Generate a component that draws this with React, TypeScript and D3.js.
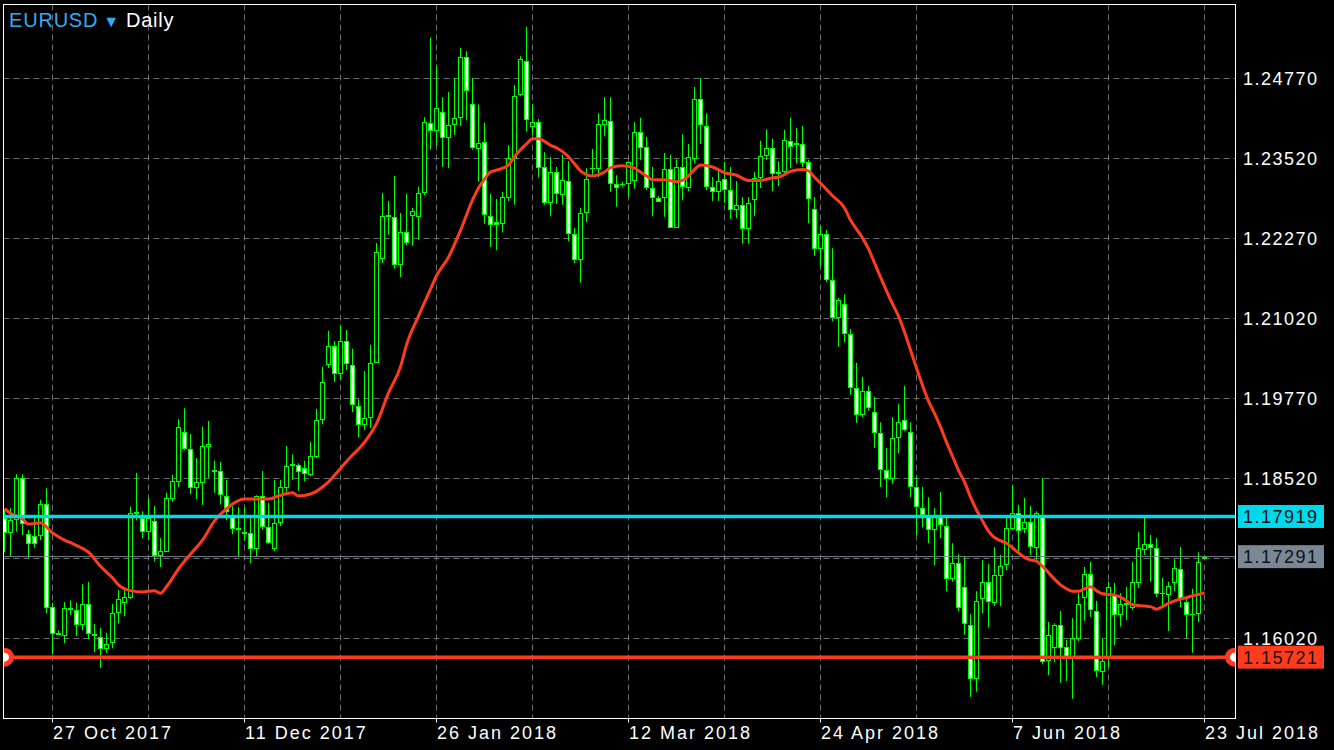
import React from "react";
import * as d3 from "d3";

const symbol = "EURUSD";
const timeframe = "Daily";

const opens = [
  1.1790, 1.1768, 1.1788, 1.1852, 1.1764, 1.1761, 1.1763, 1.1811, 1.1650, 1.1610,
  1.1607, 1.1647, 1.1646, 1.1624, 1.1655, 1.1608, 1.1604, 1.1586, 1.1596, 1.1643,
  1.1658, 1.1666, 1.1797, 1.1790, 1.1769, 1.1785, 1.1732, 1.1738, 1.1821, 1.1847,
  1.1924, 1.1897, 1.1838, 1.1846, 1.1902, 1.1863, 1.1863, 1.1824, 1.1791, 1.1774,
  1.1766, 1.1766, 1.1743, 1.1824, 1.1775, 1.1743, 1.1783, 1.1838, 1.1872, 1.1872,
  1.1868, 1.1858, 1.1886, 1.1944, 1.2030, 1.2058, 1.2016, 1.2066, 1.2029, 1.1964,
  1.1936, 1.1947, 1.2033, 1.2196, 1.2261, 1.2260, 1.2186, 1.2236, 1.2263, 1.2261,
  1.2299, 1.2407, 1.2396, 1.2424, 1.2385, 1.2405, 1.2416, 1.2510, 1.2436, 1.2368,
  1.2377, 1.2261, 1.2252, 1.2250, 1.2291, 1.2352, 1.2452, 1.2504, 1.2402, 1.2408,
  1.2338, 1.2283, 1.2330, 1.2296, 1.2316, 1.2233, 1.2194, 1.2268, 1.2336, 1.2336,
  1.2405, 1.2410, 1.2311, 1.2311, 1.2313, 1.2318, 1.2393, 1.2369, 1.2305, 1.2290,
  1.2291, 1.2335, 1.2244, 1.2338, 1.2307, 1.2352, 1.2444, 1.2402, 1.2307, 1.2300,
  1.2319, 1.2302, 1.2272, 1.2279, 1.2243, 1.2288, 1.2322, 1.2357, 1.2368, 1.2329,
  1.2332, 1.2379, 1.2374, 1.2374, 1.2346, 1.2272, 1.2211, 1.2233, 1.2161, 1.2104,
  1.2124, 1.2077, 1.1993, 1.1952, 1.1988, 1.1955, 1.1922, 1.1865, 1.1852, 1.1916,
  1.1943, 1.1924, 1.1838, 1.1805, 1.1794, 1.1772, 1.1791, 1.1777, 1.1696, 1.1719,
  1.1682, 1.1622, 1.1539, 1.1665, 1.1690, 1.1658, 1.1700, 1.1718, 1.1774, 1.1797,
  1.1774, 1.1783, 1.1744, 1.1794, 1.1568, 1.1588, 1.1622, 1.1588, 1.1571, 1.1602,
  1.1666, 1.1702, 1.1644, 1.1550, 1.1571, 1.1669, 1.1639, 1.1655, 1.1650, 1.1690,
  1.1741, 1.1749, 1.1743, 1.1672, 1.1671, 1.1690, 1.1710, 1.1658, 1.1639, 1.1641,
  1.1727,
];

const highs = [
  1.1802, 1.1805, 1.1858, 1.1858, 1.1771, 1.1790, 1.1818, 1.1836, 1.1657, 1.1614,
  1.1658, 1.1661, 1.1657, 1.1686, 1.1690, 1.1624, 1.1618, 1.1610, 1.1655, 1.1677,
  1.1679, 1.1807, 1.1860, 1.1800, 1.1822, 1.1808, 1.1758, 1.1829, 1.1857, 1.1944,
  1.1961, 1.1921, 1.1883, 1.1932, 1.1941, 1.1879, 1.1877, 1.1849, 1.1808, 1.1807,
  1.1807, 1.1790, 1.1825, 1.1863, 1.1813, 1.1849, 1.1849, 1.1902, 1.1889, 1.1875,
  1.1879, 1.1908, 1.1960, 1.2026, 1.2082, 1.2066, 1.2090, 1.2083, 1.2054, 1.1975,
  1.2019, 1.2060, 1.2219, 1.2297, 1.2285, 1.2324, 1.2266, 1.2296, 1.2274, 1.2307,
  1.2416, 1.2540, 1.2496, 1.2447, 1.2455, 1.2477, 1.2524, 1.2519, 1.2477, 1.2436,
  1.2407, 1.2296, 1.2288, 1.2299, 1.2372, 1.2466, 1.2511, 1.2557, 1.2436, 1.2413,
  1.2361, 1.2354, 1.2338, 1.2357, 1.2347, 1.2243, 1.2274, 1.2336, 1.2366, 1.2422,
  1.2447, 1.2447, 1.2325, 1.2315, 1.2347, 1.2408, 1.2415, 1.2385, 1.2338, 1.2293,
  1.2360, 1.2357, 1.2350, 1.2389, 1.2374, 1.2463, 1.2477, 1.2422, 1.2322, 1.2332,
  1.2346, 1.2338, 1.2316, 1.2291, 1.2291, 1.2330, 1.2379, 1.2397, 1.2382, 1.2347,
  1.2396, 1.2415, 1.2399, 1.2402, 1.2349, 1.2291, 1.2246, 1.2240, 1.2211, 1.2133,
  1.2139, 1.2085, 1.2032, 1.2010, 1.1996, 1.1979, 1.1939, 1.1899, 1.1947, 1.1968,
  1.1996, 1.1939, 1.1854, 1.1838, 1.1822, 1.1805, 1.1830, 1.1791, 1.1750, 1.1733,
  1.1729, 1.1639, 1.1675, 1.1724, 1.1718, 1.1744, 1.1732, 1.1794, 1.1841, 1.1810,
  1.1821, 1.1808, 1.1800, 1.1852, 1.1627, 1.1625, 1.1644, 1.1599, 1.1633, 1.1672,
  1.1713, 1.1721, 1.1660, 1.1602, 1.1690, 1.1688, 1.1672, 1.1682, 1.1721, 1.1768,
  1.1790, 1.1763, 1.1758, 1.1696, 1.1690, 1.1725, 1.1744, 1.1666, 1.1679, 1.1736,
  1.17295,
];

const lows = [
  1.1736, 1.1730, 1.1768, 1.1763, 1.1727, 1.1743, 1.1755, 1.1641, 1.1577, 1.1607,
  1.1594, 1.1638, 1.1605, 1.1614, 1.1600, 1.1580, 1.1555, 1.1579, 1.1586, 1.1625,
  1.1636, 1.1663, 1.1786, 1.1758, 1.1755, 1.1722, 1.1713, 1.1736, 1.1815, 1.1838,
  1.1896, 1.1827, 1.1819, 1.1810, 1.1852, 1.1829, 1.1811, 1.1786, 1.1764, 1.1730,
  1.1754, 1.1719, 1.1729, 1.1771, 1.1749, 1.1738, 1.1777, 1.1829, 1.1849, 1.1832,
  1.1847, 1.1855, 1.1883, 1.1936, 1.2024, 1.2002, 1.2005, 1.2021, 1.1955, 1.1916,
  1.1927, 1.1930, 1.2032, 1.2188, 1.2232, 1.2179, 1.2166, 1.2216, 1.2215, 1.2224,
  1.2294, 1.2365, 1.2371, 1.2338, 1.2336, 1.2388, 1.2402, 1.2411, 1.2365, 1.2315,
  1.2249, 1.2213, 1.2208, 1.2236, 1.2285, 1.2279, 1.2449, 1.2394, 1.2388, 1.2322,
  1.2279, 1.2261, 1.2280, 1.2279, 1.2222, 1.2188, 1.2157, 1.2252, 1.2325, 1.2322,
  1.2386, 1.2299, 1.2276, 1.2307, 1.2291, 1.2304, 1.2349, 1.2302, 1.2261, 1.2283,
  1.2260, 1.2243, 1.2243, 1.2286, 1.2300, 1.2344, 1.2374, 1.2302, 1.2285, 1.2285,
  1.2282, 1.2257, 1.2258, 1.2219, 1.2218, 1.2261, 1.2305, 1.2349, 1.2300, 1.2308,
  1.2325, 1.2336, 1.2343, 1.2338, 1.2250, 1.2199, 1.2183, 1.2158, 1.2097, 1.2057,
  1.2064, 1.1982, 1.1938, 1.1947, 1.1957, 1.1899, 1.1838, 1.1822, 1.1843, 1.1891,
  1.1925, 1.1822, 1.1763, 1.1775, 1.1750, 1.1716, 1.1758, 1.1675, 1.1690, 1.1644,
  1.1607, 1.1510, 1.1518, 1.1641, 1.1618, 1.1652, 1.1652, 1.1708, 1.1772, 1.1735,
  1.1766, 1.1732, 1.1724, 1.1561, 1.1544, 1.1564, 1.1532, 1.1535, 1.1507, 1.1597,
  1.1629, 1.1635, 1.1541, 1.1529, 1.1557, 1.1591, 1.1620, 1.1630, 1.1646, 1.1680,
  1.1732, 1.1690, 1.1666, 1.1650, 1.1613, 1.1675, 1.1650, 1.1602, 1.1579, 1.1627,
  1.1725,
];

const closes = [
  1.1768, 1.1786, 1.1852, 1.1782, 1.1750, 1.1750, 1.1811, 1.1650, 1.1610, 1.1608,
  1.1649, 1.1649, 1.1624, 1.1655, 1.1610, 1.1607, 1.1586, 1.1593, 1.1641, 1.1663,
  1.1666, 1.1797, 1.1799, 1.1769, 1.1790, 1.1732, 1.1738, 1.1821, 1.1847, 1.1932,
  1.1899, 1.1838, 1.1846, 1.1902, 1.1905, 1.1865, 1.1827, 1.1800, 1.1774, 1.1772,
  1.1768, 1.1743, 1.1824, 1.1777, 1.1752, 1.1782, 1.1838, 1.1871, 1.1874, 1.1863,
  1.1860, 1.1886, 1.1943, 1.2002, 1.2058, 1.2016, 1.2066, 1.2032, 1.1968, 1.1936,
  1.1946, 1.2032, 1.2205, 1.2261, 1.2263, 1.2186, 1.2236, 1.2221, 1.2269, 1.2297,
  1.2408, 1.2396, 1.2430, 1.2385, 1.2404, 1.2415, 1.2510, 1.2458, 1.2369, 1.2375,
  1.2264, 1.2249, 1.2249, 1.2291, 1.2352, 1.2449, 1.2507, 1.2413, 1.2408, 1.2338,
  1.2283, 1.2330, 1.2297, 1.2318, 1.2235, 1.2194, 1.2266, 1.2319, 1.2337, 1.2405,
  1.2411, 1.2313, 1.2307, 1.2312, 1.2346, 1.2393, 1.2369, 1.2307, 1.2291, 1.2285,
  1.2335, 1.2244, 1.2338, 1.2308, 1.2354, 1.2444, 1.2405, 1.2308, 1.2300, 1.2316,
  1.2304, 1.2272, 1.2279, 1.2243, 1.2282, 1.2321, 1.2355, 1.2368, 1.2329, 1.2330,
  1.2380, 1.2371, 1.2375, 1.2346, 1.2290, 1.2211, 1.2233, 1.2163, 1.2104, 1.2130,
  1.2079, 1.1994, 1.1952, 1.1988, 1.1963, 1.1924, 1.1866, 1.1852, 1.1915, 1.1939,
  1.1929, 1.1840, 1.1808, 1.1796, 1.1772, 1.1791, 1.1780, 1.1696, 1.1719, 1.1650,
  1.1625, 1.1539, 1.1660, 1.1690, 1.1660, 1.1700, 1.1715, 1.1774, 1.1797, 1.1771,
  1.1783, 1.1746, 1.1797, 1.1566, 1.1607, 1.1622, 1.1588, 1.1571, 1.1602, 1.1655,
  1.1702, 1.1647, 1.1552, 1.1566, 1.1682, 1.1639, 1.1655, 1.1656, 1.1690, 1.1743,
  1.1749, 1.1744, 1.1672, 1.1673, 1.1683, 1.1711, 1.1665, 1.1639, 1.1640, 1.1721,
  1.17291,
];

const maBars = [
  0, 1, 3, 4, 6, 8, 10, 11, 13, 14, 16, 18, 19, 21, 23, 25, 26, 27, 29, 31,
  33, 35, 37, 40, 42, 44, 46, 48, 49, 51, 53, 54, 56, 58, 59, 61, 62, 64, 66, 67,
  69, 71, 72, 74, 76, 78, 79, 80, 81, 82, 84, 85, 86, 87, 88, 89, 90, 91, 92, 94,
  95, 96, 98, 100, 101, 103, 105, 106, 107, 108, 110, 112, 113, 114, 115, 116, 118, 120, 122, 124,
  126, 128, 129, 131, 133, 134, 135, 136, 137, 138, 140, 141, 143, 144, 145, 146, 148, 149, 150, 151,
  152, 153, 154, 155, 156, 157, 158, 159, 160, 161, 162, 163, 164, 165, 166, 167, 168, 169, 170, 171,
  172, 173, 174, 175, 176, 177, 178, 179, 180, 181, 182, 183, 185, 186, 187, 188, 190, 191, 192, 193,
  194, 195, 196, 197, 198, 199, 200,
];
const maValues = [
  1.1804, 1.1797, 1.1788, 1.1780, 1.1782, 1.1766, 1.1755, 1.1751, 1.1742, 1.1736, 1.1714, 1.1696, 1.1685, 1.1676, 1.1674, 1.1676, 1.1672, 1.1682, 1.1710, 1.1733,
  1.1755, 1.1785, 1.1804, 1.1819, 1.1819, 1.1819, 1.1825, 1.1829, 1.1824, 1.1827, 1.1838, 1.1846, 1.1867, 1.1888, 1.1897, 1.1921, 1.1937, 1.1985, 1.2026, 1.2060,
  1.2105, 1.2147, 1.2168, 1.2197, 1.2239, 1.2286, 1.2305, 1.2319, 1.2330, 1.2333, 1.2341, 1.2354, 1.2365, 1.2374, 1.2382, 1.2382, 1.2378, 1.2372, 1.2368, 1.2354,
  1.2343, 1.2332, 1.2324, 1.2330, 1.2337, 1.2340, 1.2336, 1.2330, 1.2324, 1.2318, 1.2318, 1.2315, 1.2317, 1.2324, 1.2334, 1.2341, 1.2338, 1.2329, 1.2325, 1.2317,
  1.2317, 1.2321, 1.2322, 1.2331, 1.2334, 1.2332, 1.2322, 1.2313, 1.2303, 1.2293, 1.2274, 1.2255, 1.2227, 1.2210, 1.2188, 1.2166, 1.2124, 1.2105, 1.2080, 1.2052,
  1.2024, 1.1997, 1.1972, 1.1953, 1.1932, 1.1908, 1.1886, 1.1864, 1.1846, 1.1822, 1.1802, 1.1785, 1.1769, 1.1759, 1.1754, 1.1750, 1.1743, 1.1735, 1.1728, 1.1724,
  1.1722, 1.1714, 1.1704, 1.1694, 1.1685, 1.1679, 1.1675, 1.1675, 1.1679, 1.1682, 1.1676, 1.1671, 1.1669, 1.1666, 1.1660, 1.1654, 1.1652, 1.1651, 1.1647, 1.1651,
  1.1656, 1.1660, 1.1663, 1.1665, 1.1668, 1.1670, 1.1673,
];

const dateTickBars = [8, 40, 72, 104, 136, 168, 200];
const dateTickLabels = ["27 Oct 2017", "11 Dec 2017", "26 Jan 2018", "12 Mar 2018", "24 Apr 2018", "7 Jun 2018", "23 Jul 2018"];
const priceTicks = [1.2477, 1.2352, 1.2227, 1.2102, 1.1977, 1.1852, 1.1727, 1.1602];

const upperLevel = 1.17919;
const lowerLevel = 1.15721;
const bidPrice = 1.17291;

const W = 1334;
const H = 750;
const FL = 3.5, FT = 4.5, FR = 1235.5, FB = 718.5;
const FONT = "'Liberation Sans', Arial, Helvetica, sans-serif";
const LIME = "#00ff00";
const CYAN = "#00d8ec";
const RED = "#ff3b1f";
const GRAY_BOX = "#7a8896";

export default function App() {
  const x = d3.scaleLinear().domain([0, 200]).range([4, 1204]);
  const y = d3.scaleLinear().domain([1.1602, 1.2477]).range([638, 78]);
  const py = (p: number) => Math.round(y(p)) + 0.5;

  const maLine = d3
    .line<number>()
    .x((_, i) => x(maBars[i]) + 0.5)
    .y((d) => y(d))
    .curve(d3.curveMonotoneX);

  const gridBars = d3.range(8, 201, 16);

  const candles = opens.map((o, i) => {
    const c = closes[i];
    const cx = x(i);
    const top = Math.round(y(Math.max(o, c)));
    const bot = Math.round(y(Math.min(o, c)));
    const bear = c < o;
    return (
      <g key={i}>
        <line x1={cx + 0.5} x2={cx + 0.5} y1={y(highs[i])} y2={y(lows[i])} stroke={LIME} strokeWidth={1} />
        <rect
          x={cx - 1.5}
          y={top + 0.5}
          width={4}
          height={Math.max(bot - top, 0.01)}
          fill={bear ? "#ffffff" : "#000000"}
          stroke={LIME}
          strokeWidth={1}
        />
      </g>
    );
  });

  const labelBox = (p: number, bg: string) => (
    <g>
      <rect x={1238} y={y(p) - 11.5} width={86} height={23} fill={bg} />
      <text x={1243} y={y(p) + 6.5} fontSize={18} fill="#111" letterSpacing={1.5} fontFamily={FONT}>
        {p.toFixed(5)}
      </text>
    </g>
  );

  return (
    <div style={{ position: "fixed", left: 0, top: 0, width: W, height: H, background: "#000" }}>
      <svg width={W} height={H} style={{ display: "block" }}>
        <defs>
          <clipPath id="plot">
            <rect x={FL} y={FT} width={FR - FL} height={FB - FT} />
          </clipPath>
        </defs>
        <rect x={0} y={0} width={W} height={H} fill="#000" />
        <g clipPath="url(#plot)">
          {gridBars.map((b) => (
            <line key={"vg" + b} x1={x(b) + 0.5} x2={x(b) + 0.5} y1={FT} y2={FB} stroke="#6e6e6e" strokeDasharray="6 4" />
          ))}
          {priceTicks.map((p) => (
            <line key={"hg" + p} x1={FL} x2={FR} y1={py(p)} y2={py(p)} stroke="#6e6e6e" strokeDasharray="6 4" />
          ))}
          {candles}
          <line x1={FL} x2={FR} y1={y(bidPrice)} y2={y(bidPrice)} stroke="#7b8794" strokeWidth={1} />
          <path d={maLine(maValues) || ""} fill="none" stroke={RED} strokeWidth={3} />
          <line x1={FL} x2={FR} y1={y(upperLevel)} y2={y(upperLevel)} stroke={CYAN} strokeWidth={3.5} />
          <line x1={FL} x2={FR} y1={y(lowerLevel)} y2={y(lowerLevel)} stroke={RED} strokeWidth={3.5} />
          <circle cx={FL + 1} cy={y(lowerLevel)} r={7} fill="#fff" stroke={RED} strokeWidth={5} />
          <circle cx={FR - 1} cy={y(lowerLevel)} r={7} fill="#fff" stroke={RED} strokeWidth={5} />
        </g>
        <rect x={FL} y={FT} width={FR - FL} height={FB - FT} fill="none" stroke="#fff" strokeWidth={1} />
        {dateTickBars.map((b, i) => (
          <g key={"dt" + b}>
            <line x1={x(b) + 0.5} x2={x(b) + 0.5} y1={FB} y2={FB + 4} stroke="#fff" />
            <text x={x(b) + 1} y={739} fontSize={18} fill="#fff" letterSpacing={2} fontFamily={FONT}>
              {dateTickLabels[i]}
            </text>
          </g>
        ))}
        {priceTicks.map((p) => (
          <text key={"pt" + p} x={1243} y={y(p) + 6.5} fontSize={18} fill="#fff" letterSpacing={1.5} fontFamily={FONT}>
            {p.toFixed(5)}
          </text>
        ))}
        {labelBox(upperLevel, CYAN)}
        {labelBox(bidPrice, GRAY_BOX)}
        {labelBox(lowerLevel, RED)}
        <text x={9} y={27} fontSize={20} fontFamily={FONT} letterSpacing={0.8}>
          <tspan fill="#36aaf0">{symbol}</tspan>
          <tspan fill="#36aaf0" fontSize={16} dx={5}>▼</tspan>
          <tspan fill="#fff" dx={6}>{timeframe}</tspan>
        </text>
      </svg>
    </div>
  );
}
